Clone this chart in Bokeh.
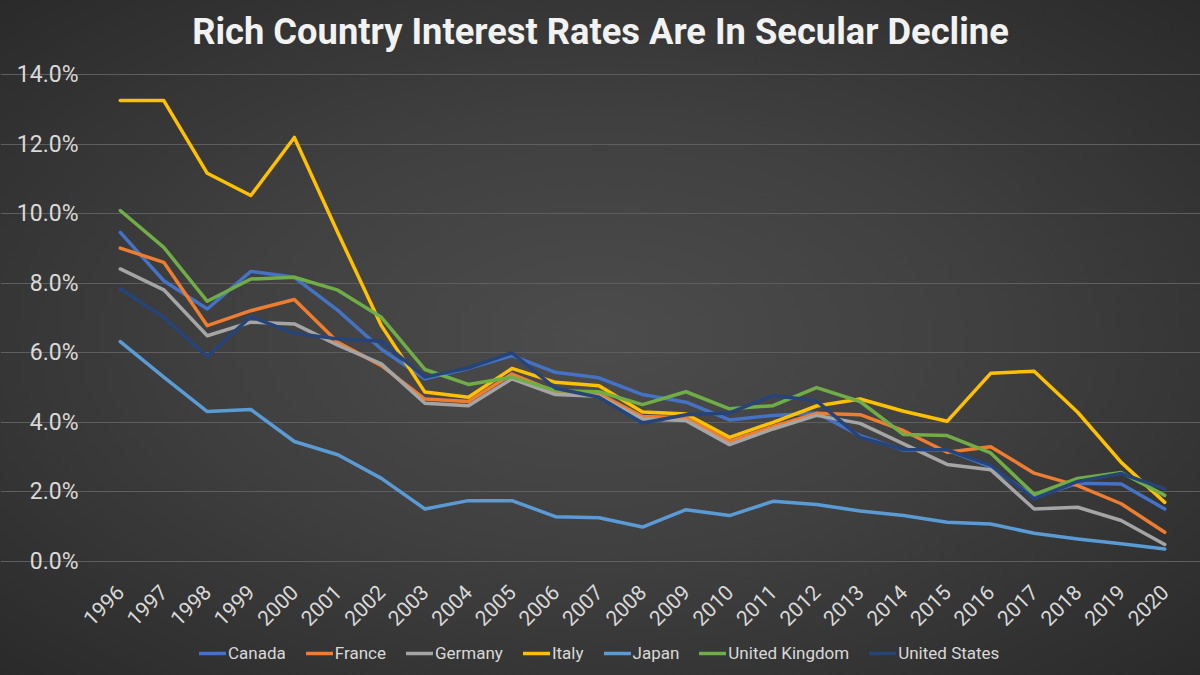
from bokeh.plotting import figure
from bokeh.models import Range1d, FixedTicker, PrintfTickFormatter, Legend, LegendItem, Label
from bokeh.embed import file_html
from bokeh.resources import INLINE

years = list(range(1996, 2021))
canada = [9.46, 8.07, 7.26, 8.34, 8.17, 7.22, 6.10, 5.25, 5.55, 5.92, 5.44, 5.28, 4.80, 4.58, 4.07, 4.20, 4.27, 3.62, 3.20, 3.20, 2.72, 1.85, 2.25, 2.23, 1.51]
france = [9.01, 8.60, 6.78, 7.21, 7.53, 6.30, 5.63, 4.67, 4.60, 5.39, 4.88, 4.82, 4.17, 4.13, 3.46, 3.88, 4.26, 4.22, 3.76, 3.14, 3.30, 2.54, 2.18, 1.66, 0.84]
germany = [8.41, 7.81, 6.49, 6.88, 6.83, 6.22, 5.68, 4.55, 4.48, 5.25, 4.80, 4.75, 4.10, 4.05, 3.36, 3.81, 4.20, 3.97, 3.38, 2.79, 2.64, 1.51, 1.56, 1.18, 0.49]
italy = [13.25, 13.25, 11.16, 10.52, 12.19, 9.45, 6.78, 4.87, 4.72, 5.55, 5.15, 5.05, 4.30, 4.24, 3.57, 4.00, 4.47, 4.67, 4.32, 4.03, 5.41, 5.47, 4.29, 2.85, 1.70]
japan = [6.32, 5.30, 4.31, 4.37, 3.45, 3.07, 2.39, 1.51, 1.75, 1.75, 1.29, 1.26, 0.99, 1.49, 1.32, 1.73, 1.64, 1.45, 1.32, 1.13, 1.08, 0.81, 0.65, 0.51, 0.36]
uk = [10.09, 9.03, 7.48, 8.12, 8.17, 7.80, 7.02, 5.52, 5.09, 5.30, 4.91, 4.88, 4.51, 4.88, 4.39, 4.48, 5.00, 4.60, 3.65, 3.62, 3.12, 1.93, 2.39, 2.56, 1.90]
us = [7.84, 7.02, 5.89, 7.04, 6.56, 6.40, 6.33, 5.30, 5.57, 6.00, 4.98, 4.72, 3.98, 4.22, 4.27, 4.77, 4.62, 3.57, 3.22, 3.21, 2.77, 1.80, 2.30, 2.53, 2.09]

series_names = ["Canada", "France", "Germany", "Italy", "Japan", "United Kingdom", "United States"]
series_values = [canada, france, germany, italy, japan, uk, us]
series_colors = ["#4472C4", "#ED7D31", "#A5A5A5", "#FFC000", "#5B9BD5", "#70AD47", "#264478"]
y_ticks = [0, 2, 4, 6, 8, 10, 12, 14]
title_text = "Rich Country Interest Rates Are In Secular Decline"

# Plot area: 1996..2020 (half-year padding) spans 1088px starting 98px from the left;
# 0%..14% spans 487px starting 74px from the top. The frame covers the whole canvas
# so that title, axis labels and legend all sit inside it without clipping.
X_MIN, X_MAX = 1995.5, 2020.5
Y_MIN, Y_MAX = 0, 14
x_pad_left = (X_MAX - X_MIN) * 98 / 1088
x_pad_right = (X_MAX - X_MIN) * 14 / 1088
y_pad_bottom = (Y_MAX - Y_MIN) * 114 / 487
y_pad_top = (Y_MAX - Y_MIN) * 74 / 487

p = figure(frame_width=1200, frame_height=675, output_backend="svg", toolbar_location=None,
           x_range=Range1d(X_MIN - x_pad_left, X_MAX + x_pad_right),
           y_range=Range1d(Y_MIN - y_pad_bottom, Y_MAX + y_pad_top),
           min_border_left=0, min_border_right=0, min_border_top=0, min_border_bottom=0,
           styles={"background": "radial-gradient(ellipse at 50% 50%, #4c4c4c 0%, #404040 45%, #2a2a2a 100%)"})
p.background_fill_alpha = 0
p.border_fill_alpha = 0
p.outline_line_color = None

p.add_layout(Label(x=600, y=644, x_units="screen", y_units="screen", text=title_text,
                   text_align="center", text_baseline="middle", text_font="Roboto",
                   text_font_size="36.3px", text_font_style="bold", text_color="#F2F2F2"))

p.xgrid.grid_line_color = None
p.ygrid.grid_line_color = "#5e5e5e"
p.ygrid.grid_line_width = 1
p.ygrid.bounds = (X_MIN, X_MAX)

p.yaxis.ticker = FixedTicker(ticks=y_ticks)
p.yaxis.formatter = PrintfTickFormatter(format="%.1f%%")
p.yaxis.fixed_location = X_MIN
p.xaxis.ticker = FixedTicker(ticks=years)
p.xaxis.fixed_location = Y_MIN
for ax in (p.xaxis[0], p.yaxis[0]):
    ax.axis_line_color = None
    ax.major_tick_line_color = None
    ax.minor_tick_line_color = None
    ax.major_label_text_color = "#D9D9D9"
    ax.major_label_text_font = "Roboto"
p.yaxis.major_label_text_font_size = "23px"
p.yaxis.major_label_standoff = 14
p.xaxis.major_label_text_font_size = "21px"
p.xaxis.major_label_orientation = 0.785398
p.xaxis.major_label_standoff = 21

items = []
for name, vals, col in zip(series_names, series_values, series_colors):
    r = p.line(years, vals, line_color=col, line_width=3.5, line_join="round", line_cap="round")
    items.append(LegendItem(label=name, renderers=[r]))

legend = Legend(items=items, orientation="horizontal", location=(199, 12),
                background_fill_alpha=0, border_line_color=None,
                label_text_color="#D9D9D9", label_text_font="Roboto", label_text_font_size="17px",
                glyph_width=27, glyph_height=16, label_standoff=2, spacing=20, padding=0, margin=0)
p.add_layout(legend, "center")

open("out.html", "w").write(file_html(p, INLINE))
